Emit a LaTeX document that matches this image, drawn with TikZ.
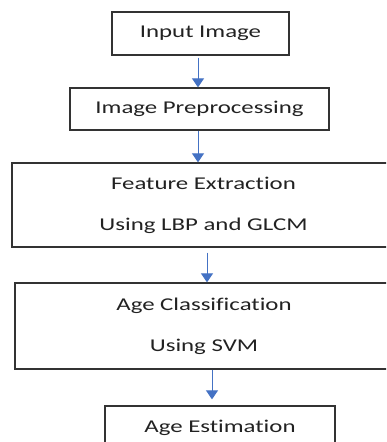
\documentclass[tikz,border=0pt]{standalone}
\usepackage{fontspec}
\setmainfont{Carlito}
\newfontfamily\widefont[FakeStretch=1.38,Ligatures=NoCommon]{Carlito}
\usetikzlibrary{arrows.meta}
\definecolor{arrowblue}{HTML}{4472C4}
\definecolor{boxline}{HTML}{333333}
\definecolor{txt}{HTML}{222222}
\begin{document}
\begin{tikzpicture}[x=1pt,y=-1pt,
  box/.style={draw=boxline, line width=1.3pt, fill=white, inner sep=0pt, align=center,
              text=txt, font=\widefont\fontsize{18}{21.6}\selectfont},
  arr/.style={draw=arrowblue, line width=1pt, -{Triangle[width=12pt,length=9pt]}}]
\useasboundingbox (0,0) rectangle (386,442);
\clip (0,0) rectangle (386,442);
\fill[white] (0,0) rectangle (386,442);
\node[box, minimum width=177pt, minimum height=43pt] (b1) at (200.5,33.5) {Input Image};
\node[box, minimum width=259pt, minimum height=42pt] (b2) at (199.5,109) {Image Preprocessing};
\node[box, minimum width=383pt, minimum height=84pt] (b3) at (203.5,205) {Feature Extraction\\[19.4pt]Using LBP and GLCM};
\node[box, minimum width=378pt, minimum height=86pt] (b4) at (204,326) {Age Classification\\[19.4pt]Using SVM};
\node[box, minimum width=230pt, minimum height=43pt] (b5) at (220,427.5) {Age Estimation};
\coordinate (s1) at ([xshift=-2.5pt,yshift=-2pt]b1.south);
\coordinate (s2) at ([xshift=-1.5pt]b2.south);
\coordinate (s3) at ([xshift=3.5pt,yshift=-5pt]b3.south);
\coordinate (s4) at ([xshift=8pt]b4.south);
\coordinate (e4) at ([yshift=6pt]b5.north);
\draw[arr] (s1) -- (s1 |- b2.north);
\draw[arr] (s2) -- (s2 |- b3.north);
\draw[arr] (s3) -- (s3 |- b4.north);
\draw[arr] (s4) -- (s4 |- e4);
\end{tikzpicture}
\end{document}
